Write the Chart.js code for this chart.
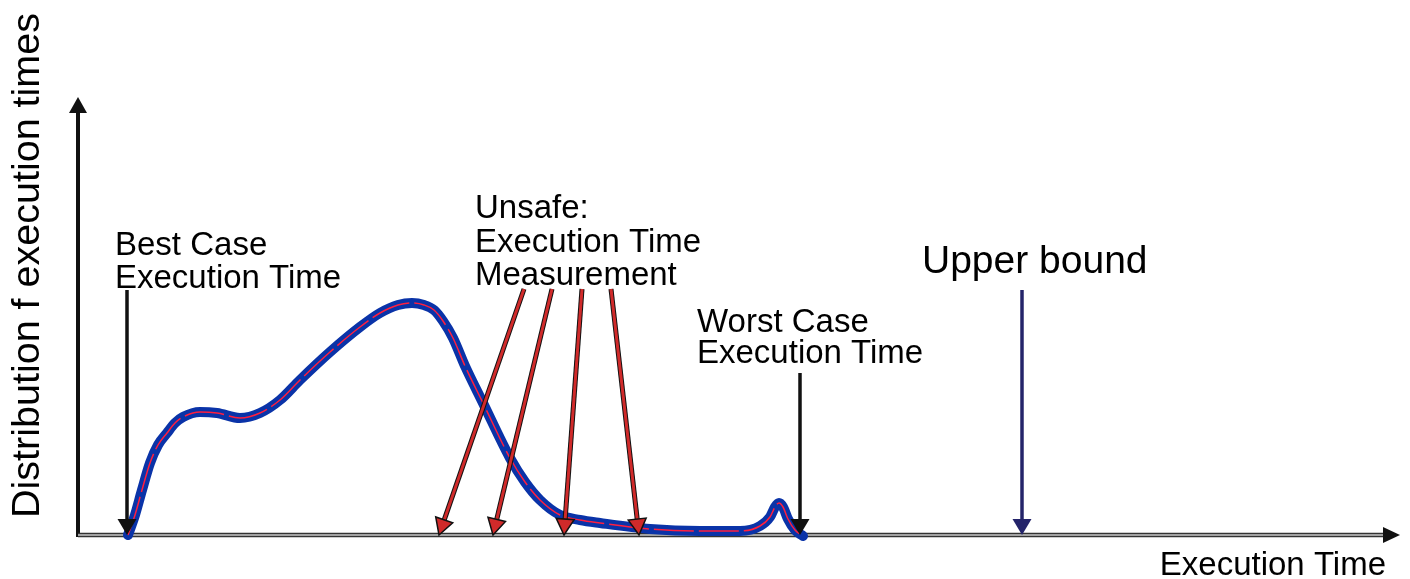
<!DOCTYPE html>
<html>
<head>
<meta charset="utf-8">
<script src="https://cdn.jsdelivr.net/npm/chart.js@4.4.1/dist/chart.umd.min.js"></script>
<style>
  html, body { margin: 0; padding: 0; background: #fff; }
  #wrap { width: 1410px; height: 579px; position: relative; }
</style>
</head>
<body>
<div id="wrap"><canvas id="myChart"></canvas></div>
<script>
// execution time (x) and distribution (y)
const timeValues = [50, 57, 64, 72, 80, 89, 97, 105, 122, 139, 162, 182, 202, 222, 252, 282, 302, 320, 334, 346, 356, 365, 375, 387, 405, 432, 447, 462, 482, 502, 522, 572, 622, 662, 682, 692, 697, 701, 705, 710, 717, 725];
const distValues = [0, 20, 45, 72, 90, 102, 112, 118, 123, 122, 117, 122, 135, 155, 183, 208, 222, 230, 232, 230, 225, 214, 197, 169, 132, 77, 53, 35, 20, 15, 12, 6, 4, 4, 9, 18, 28, 32, 28, 16, 5, -1];

// arrows: start (x, y) -> end (x, y)
const bestCaseArrow = [49, 245, 49, 0];
const unsafeArrows = [
  [446, 246, 361, 0],
  [474, 246, 415, 0],
  [504, 246, 486, 0],
  [533, 246, 561, 0]
];
const worstCaseArrow = [722, 162, 722, 0];
const upperBoundArrow = [944, 245, 944, 0];

// text labels: lines, x, baseline y of each line
const bestCaseLabel = ["Best Case", "Execution Time"];
const bestCaseY = [280, 247];
const unsafeLabel = ["Unsafe:", "Execution Time", "Measurement"];
const unsafeY = [317, 283, 250];
const worstCaseLabel = ["Worst Case", "Execution Time"];
const worstCaseY = [203, 172];
const upperBoundLabel = ["Upper bound"];
const upperBoundY = [262];

const xTitle = "Execution Time";
const yTitle = "Distribution f execution times";

const FONT = '"Liberation Sans", Arial, sans-serif';

const points = timeValues.map((x, i) => ({x: x, y: distValues[i]}));

function drawArrow(ctx, x1, y1, x2, y2, opt) {
  const ang = Math.atan2(y2 - y1, x2 - x1);
  const hl = opt.headLen, hw = opt.headWidth / 2;
  const bx = x2 - hl * Math.cos(ang), by = y2 - hl * Math.sin(ang);
  ctx.save();
  ctx.lineCap = "butt";
  if (opt.outline) {
    ctx.strokeStyle = opt.outline;
    ctx.lineWidth = opt.width + 2;
    ctx.beginPath(); ctx.moveTo(x1, y1); ctx.lineTo(bx, by); ctx.stroke();
  }
  ctx.strokeStyle = opt.color;
  ctx.lineWidth = opt.width;
  ctx.beginPath(); ctx.moveTo(x1, y1); ctx.lineTo(bx, by); ctx.stroke();
  ctx.beginPath();
  ctx.moveTo(x2, y2);
  ctx.lineTo(bx + hw * Math.sin(ang), by - hw * Math.cos(ang));
  ctx.lineTo(bx - hw * Math.sin(ang), by + hw * Math.cos(ang));
  ctx.closePath();
  ctx.fillStyle = opt.color;
  ctx.fill();
  if (opt.outline) {
    ctx.strokeStyle = opt.outline;
    ctx.lineWidth = 1.5;
    ctx.stroke();
  }
  ctx.restore();
}

const diagramPlugin = {
  id: "diagram",
  beforeDatasetsDraw(chart) {
    const ctx = chart.ctx;
    const a = chart.chartArea;
    ctx.save();
    // y axis with arrow
    drawArrow(ctx, a.left, a.bottom + 2, a.left, a.top - 3, {color: "#111", width: 4, headLen: 16, headWidth: 18});
    // x axis (hollow-looking line) with arrow
    ctx.strokeStyle = "#333";
    ctx.lineWidth = 4.5;
    ctx.beginPath(); ctx.moveTo(a.left, a.bottom); ctx.lineTo(a.right - 14, a.bottom); ctx.stroke();
    ctx.strokeStyle = "#c8c8c8";
    ctx.lineWidth = 1.5;
    ctx.beginPath(); ctx.moveTo(a.left, a.bottom); ctx.lineTo(a.right - 14, a.bottom); ctx.stroke();
    drawArrow(ctx, a.right - 15, a.bottom, a.right + 2, a.bottom, {color: "#111", width: 1, headLen: 17, headWidth: 16});
    ctx.restore();
  },
  afterDatasetsDraw(chart) {
    const ctx = chart.ctx;
    const xs = chart.scales.x, ys = chart.scales.y;
    const a = chart.chartArea;
    const px = v => xs.getPixelForValue(v);
    const py = v => ys.getPixelForValue(v);
    const arrow = (d, opt) => drawArrow(ctx, px(d[0]), py(d[1]), px(d[2]), py(d[3]), opt);

    const black = {color: "#111", width: 3.5, headLen: 16, headWidth: 19};
    arrow(bestCaseArrow, black);
    arrow(worstCaseArrow, black);
    unsafeArrows.forEach(d => arrow(d, {color: "#d02a2a", outline: "#111", width: 3, headLen: 16, headWidth: 18}));
    arrow(upperBoundArrow, {color: "#24246a", width: 3.5, headLen: 16, headWidth: 19});

    ctx.save();
    ctx.fillStyle = "#000";
    ctx.textAlign = "left";
    ctx.textBaseline = "alphabetic";
    const label = (lines, x, yv, size) => {
      ctx.font = size + "px " + FONT;
      lines.forEach((t, i) => ctx.fillText(t, px(x), py(yv[i])));
    };
    label(bestCaseLabel, 37, bestCaseY, 33);
    label(unsafeLabel, 397, unsafeY, 33);
    label(worstCaseLabel, 619, worstCaseY, 33);
    label(upperBoundLabel, 844, upperBoundY, 39);

    // axis titles
    ctx.font = "33px " + FONT;
    ctx.textAlign = "right";
    ctx.fillText(xTitle, a.right - 12, a.bottom + 40);
    ctx.translate(a.left - 39, (a.top + a.bottom) / 2 - 52);
    ctx.rotate(-Math.PI / 2);
    ctx.textAlign = "center";
    ctx.font = "39.5px " + FONT;
    ctx.fillText(yTitle, 0, 0);
    ctx.restore();
  }
};

const chart = new Chart("myChart", {
  type: "line",
  data: {
    datasets: [
      {
        data: points,
        order: 2,
        borderColor: "#0a33a8",
        borderWidth: 10,
        pointRadius: 0,
        cubicInterpolationMode: "monotone",
        fill: false,
        clip: false,
        borderCapStyle: "round",
        borderJoinStyle: "round"
      },
      {
        data: points,
        order: 1,
        borderColor: "#ff1f3f",
        borderWidth: 1.5,
        borderDash: [40, 5],
        pointRadius: 0,
        cubicInterpolationMode: "monotone",
        fill: false,
        clip: false
      }
    ]
  },
  options: {
    responsive: true,
    maintainAspectRatio: false,
    animation: false,
    layout: {padding: {left: 78, right: 12, top: 100, bottom: 44}},
    plugins: {
      legend: {display: false},
      tooltip: {enabled: false}
    },
    scales: {
      x: {type: "linear", min: 0, max: 1320, display: false},
      y: {type: "linear", min: 0, max: 435, display: false}
    }
  },
  plugins: [diagramPlugin]
});
</script>
</body>
</html>
